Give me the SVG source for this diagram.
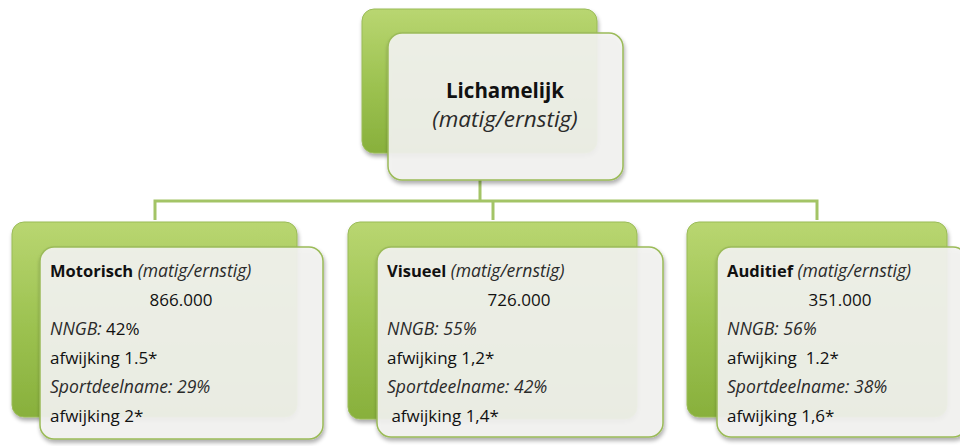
<svg xmlns="http://www.w3.org/2000/svg" width="960" height="446" viewBox="0 0 960 446">
<defs>
<linearGradient id="g" x1="0" y1="0" x2="0" y2="1">
<stop offset="0" stop-color="#b9d671"/>
<stop offset="0.5" stop-color="#9ec352"/>
<stop offset="1" stop-color="#88b03c"/>
</linearGradient>
<filter id="sh" x="-10%" y="-10%" width="130%" height="130%">
<feGaussianBlur in="SourceAlpha" stdDeviation="2"/>
<feOffset dx="1" dy="3"/>
<feComponentTransfer><feFuncA type="linear" slope="0.35"/></feComponentTransfer>
<feMerge><feMergeNode/><feMergeNode in="SourceGraphic"/></feMerge>
</filter>
</defs>
<style>
.back{fill:url(#g);stroke:#9abb58;stroke-width:1;filter:url(#sh)}
.front{fill:#f4f4f2;fill-opacity:0.9;stroke:#9bbb59;stroke-width:1.5;filter:url(#sh)}
.conn{fill:none;stroke:#a3c466;stroke-width:3}
text{font-family:"Open Sans",Lato,sans-serif;fill:#111}
.t{font-size:17px}
.b{font-weight:bold;font-size:16.5px}
.i{font-style:italic;font-size:17.6px;fill:#2a2a2a}
.tb{font-size:20.5px;font-weight:bold}
.ti{font-size:22.5px;font-style:italic;fill:#2a2a2a}
</style>
<g id="connectors">
<path class="conn" d="M480 180 V201 M155 220 V201 H817 V220 M493 201 V220"/>
</g>
<g id="node-lichamelijk">
<rect class="back" x="362" y="9" width="235" height="144" rx="12"/>
<rect class="front" x="388" y="33" width="235" height="147" rx="14"/>
<text class="tb" x="505" y="98" text-anchor="middle">Lichamelijk</text>
<text class="ti" x="505" y="127" text-anchor="middle">(matig/ernstig)</text>
</g>
<g id="node-motorisch">
<rect class="back" x="12" y="222" width="285" height="195" rx="12"/>
<rect class="front" x="40" y="247" width="283" height="192" rx="14"/>
<text class="t" x="50" y="277"><tspan class="b">Motorisch</tspan> <tspan class="i">(matig/ernstig)</tspan></text>
<text class="t" x="181" y="306" text-anchor="middle">866.000</text>
<text class="t" x="50" y="335"><tspan class="i">NNGB:</tspan> 42%</text>
<text class="t" x="50" y="364">afwijking 1.5*</text>
<text class="t i" x="50" y="393">Sportdeelname: 29%</text>
<text class="t" x="50" y="422">afwijking 2*</text>
</g>
<g id="node-visueel">
<rect class="back" x="348" y="222" width="289" height="197" rx="12"/>
<rect class="front" x="377" y="247" width="286" height="190" rx="14"/>
<text class="t" x="387" y="277"><tspan class="b">Visueel</tspan> <tspan class="i">(matig/ernstig)</tspan></text>
<text class="t" x="519" y="306" text-anchor="middle">726.000</text>
<text class="t i" x="387" y="335">NNGB: 55%</text>
<text class="t" x="387" y="364">afwijking 1,2*</text>
<text class="t i" x="387" y="393">Sportdeelname: 42%</text>
<text class="t" x="387" y="422" xml:space="preserve"> afwijking 1,4*</text>
</g>
<g id="node-auditief">
<rect class="back" x="687" y="222" width="260" height="195" rx="12"/>
<rect class="front" x="717" y="247" width="250" height="190" rx="14"/>
<text class="t" x="727" y="277"><tspan class="b">Auditief</tspan> <tspan class="i">(matig/ernstig)</tspan></text>
<text class="t" x="840" y="306" text-anchor="middle">351.000</text>
<text class="t i" x="727" y="335">NNGB: 56%</text>
<text class="t" x="727" y="364" xml:space="preserve">afwijking  1.2*</text>
<text class="t i" x="727" y="393">Sportdeelname: 38%</text>
<text class="t" x="727" y="422">afwijking 1,6*</text>
</g>
</svg>
